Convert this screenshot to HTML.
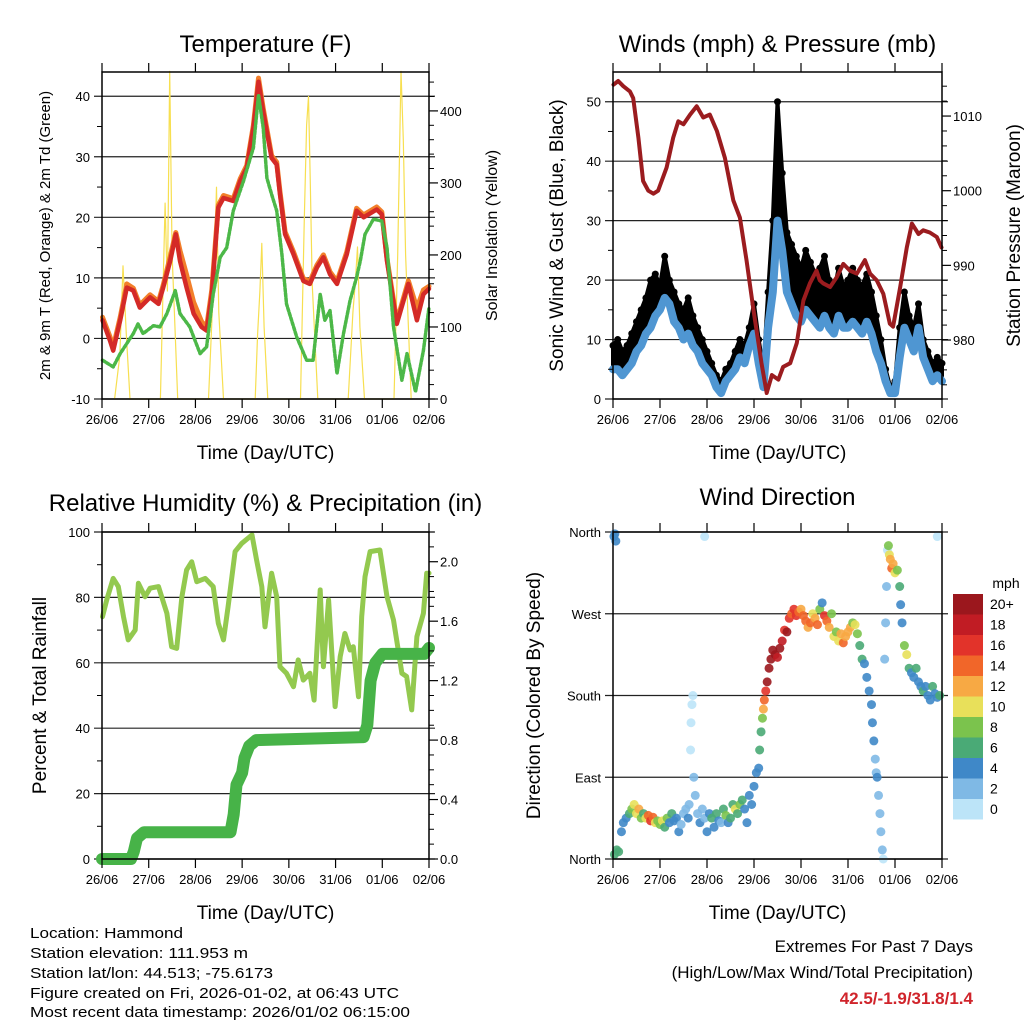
<!DOCTYPE html>
<html><head><meta charset="utf-8">
<style>
html,body{margin:0;padding:0;background:#fff;}
svg{display:block;font-family:"Liberation Sans",Arial,sans-serif;}
</style></head>
<body>
<svg id="fig" width="1024" height="1024" viewBox="0 0 1024 1024" xmlns="http://www.w3.org/2000/svg">
<g id="layer"></g>
<g font-size="15" fill="#000">
<text x="30" y="938" textLength="153" lengthAdjust="spacingAndGlyphs">Location: Hammond</text>
<text x="30" y="958" textLength="218" lengthAdjust="spacingAndGlyphs">Station elevation: 111.953 m</text>
<text x="30" y="978" textLength="243" lengthAdjust="spacingAndGlyphs">Station lat/lon: 44.513; -75.6173</text>
<text x="30" y="998" textLength="369" lengthAdjust="spacingAndGlyphs">Figure created on Fri, 2026-01-02, at 06:43 UTC</text>
<text x="30" y="1017" textLength="380" lengthAdjust="spacingAndGlyphs">Most recent data timestamp: 2026/01/02 06:15:00</text>
</g>
<g font-size="17">
<text x="973" y="952" text-anchor="end">Extremes For Past 7 Days</text>
<text x="973" y="978" text-anchor="end">(High/Low/Max Wind/Total Precipitation)</text>
<text x="973" y="1004" text-anchor="end" fill="#d0242b" font-weight="bold">42.5/-1.9/31.8/1.4</text>
</g>
</svg>
<script>
// ---------- Temperature panel data ----------
const tempT=[0.01,0.17,0.24,0.39,0.53,0.67,0.81,1.03,1.21,1.31,1.46,1.58,1.67,1.81,1.96,2.13,2.24,2.35,2.49,2.6,2.81,2.96,3.1,3.24,3.35,3.45,3.63,3.74,3.81,3.92,4.1,4.31,4.45,4.6,4.74,4.88,5.03,5.24,5.45,5.6,5.88,5.99,6.1,6.31,6.56,6.74,6.88,7.0];
const tempRed=[3,-0.3,-2,3,8.4,7.9,5.1,6.8,5.7,8.4,12.8,17.2,12.8,8.4,4.1,1.9,1.3,7.3,21.6,23.2,22.7,26,28.2,34.8,42.4,37.5,29.8,28.7,23.8,17.2,13.9,9.5,9,11.7,13.4,10.6,9,13.9,21.1,20,21.3,20.5,12.8,2.4,9,3,7.3,8.2];
const tempOrange=[3.5,0.3,-1.5,3.5,9,8.3,5.5,7.2,6.1,8.8,13.5,17.5,14.5,10.5,6,2.8,1.8,8,22,23.6,23.1,26.4,28.6,35.2,43,38,30.2,29.1,24.2,17.6,14.3,9.9,9.4,12.1,13.8,11,9.4,14.3,21.5,20.4,21.7,20.9,13.2,2.8,9.5,5,8,8.6];
const dewT=[0.01,0.24,0.39,0.67,0.77,0.88,1.1,1.24,1.39,1.57,1.67,1.88,2.1,2.24,2.38,2.53,2.67,2.81,3.03,3.24,3.35,3.45,3.53,3.63,3.74,3.85,3.95,4.17,4.38,4.52,4.67,4.77,4.88,5.03,5.17,5.31,5.45,5.53,5.63,5.81,5.99,6.1,6.24,6.42,6.53,6.71,6.88,7.0];
const dewV=[-3.6,-4.7,-2.5,0.8,2.4,0.8,2.1,1.9,4.1,7.9,4.1,1.9,-2.5,-1.4,7.3,13.4,15,21.1,26,31.5,40.2,34.8,26.5,23.8,21.1,13.9,5.7,0.2,-3.6,-3.6,7.3,3,4.6,-5.8,0.8,6.3,10.1,12.8,17.2,19.7,19.4,15,1.9,-6.9,-2.5,-8.8,-2,5.1];
const solarT=[0.27,0.38,0.45,0.52,0.6,1.25,1.35,1.4,1.45,1.5,1.55,1.62,2.28,2.4,2.45,2.5,2.6,3.28,3.33,3.38,3.42,3.47,3.55,4.25,4.33,4.38,4.42,4.46,4.5,4.62,5.27,5.37,5.42,5.47,5.52,5.62,6.25,6.33,6.4,6.45,6.5,6.62];
const solarV=[0,60,185,90,0,0,272,150,455,200,120,0,0,180,294,120,0,0,90,150,216,100,0,0,250,380,420,300,160,0,0,120,160,211,100,0,0,200,455,360,200,0];
// ---------- Winds panel data ----------
const pressT=[0.01,0.11,0.22,0.36,0.43,0.54,0.64,0.75,0.86,0.96,1.14,1.28,1.39,1.5,1.64,1.78,1.92,2.06,2.21,2.38,2.56,2.7,2.84,2.99,3.16,3.27,3.38,3.52,3.62,3.77,3.91,4.05,4.19,4.33,4.4,4.47,4.62,4.76,4.9,5.04,5.19,5.36,5.47,5.61,5.75,5.89,5.96,6.11,6.25,6.36,6.5,6.6,6.74,6.89,6.99];
const pressV=[1014.2,1014.7,1014,1013.3,1012.4,1007.1,1001.3,1000,999.6,1000,1003.1,1007.1,1009.3,1008.9,1010.2,1011.3,1009.8,1010.2,1008,1004.4,998.7,996.4,990.7,984,976.9,972.9,975.3,974.7,976.4,976.9,979.6,985.3,987.6,989.3,988,987.6,987.1,988.4,990.2,989.3,988.9,990.7,988.9,988,986.2,982.2,981.8,987.1,992.4,995.6,994.2,994.7,994.4,993.8,992.4];
const windT=[0,0.1,0.2,0.3,0.4,0.5,0.6,0.7,0.8,0.9,1,1.1,1.2,1.3,1.4,1.5,1.6,1.7,1.8,1.9,2,2.1,2.2,2.3,2.4,2.5,2.6,2.7,2.8,2.9,3,3.1,3.2,3.3,3.4,3.5,3.6,3.7,3.8,3.9,4,4.1,4.2,4.3,4.4,4.5,4.6,4.7,4.8,4.9,5,5.1,5.2,5.3,5.4,5.5,5.6,5.7,5.8,5.9,6,6.1,6.2,6.3,6.4,6.5,6.6,6.7,6.8,6.9,7];
const windSust=[5,5,4,5,6,8,9,11,12,14,15,17,16,13,12,10,11,9,8,6,5,4,2,1,3,4,5,7,6,9,11,6,2,12,18,30,25,18,16,14,13,15,14,13,12,14,12,11,14,12,12,13,12,11,13,11,8,6,3,1,1,7,12,10,8,12,7,5,3,4,3];
const windGust=[9,10,8,9,11,13,15,17,20,21,19,24,20,18,16,15,17,14,12,10,8,6,4,3,5,6,8,10,9,12,16,10,5,18,30,50,38,28,26,24,22,25,23,21,22,24,20,18,22,19,20,22,20,19,21,18,14,10,5,2,3,12,18,14,12,16,10,8,6,7,6];
// ---------- RH / Precip data ----------
const rhT=[0.01,0.1,0.24,0.35,0.46,0.56,0.71,0.78,0.92,1.03,1.21,1.39,1.49,1.6,1.71,1.81,1.92,2.03,2.21,2.38,2.49,2.6,2.7,2.85,2.99,3.21,3.31,3.42,3.49,3.63,3.74,3.81,3.95,4.1,4.2,4.31,4.45,4.54,4.67,4.74,4.85,4.99,5.1,5.2,5.31,5.38,5.49,5.56,5.63,5.74,5.95,6.1,6.24,6.42,6.52,6.63,6.74,6.88,6.95,7.0];
const rhV=[74.1,79.2,85.8,83.3,74.1,67,70,84.3,80.2,82.8,83.3,75.1,64.9,64.4,80.2,88.4,90.9,84.8,85.8,83.3,72.1,67,77.2,94,96.5,99.1,91.4,83.3,71,87.4,80.2,58.8,56.8,52.7,60.9,54.7,56.8,48.6,82.3,58.8,79.2,46.6,61.9,69,63.9,64.9,49.6,74.1,86.3,94,94.5,80.2,73.1,56.8,55.8,45.6,68,75.1,87.4,87.4];
const rainT=[0,0.62,0.68,0.75,0.9,2.75,2.82,2.88,3.0,3.05,3.15,3.3,5.6,5.68,5.75,5.85,6.0,6.9,7.0];
const rainV=[0,0,0.05,0.14,0.18,0.18,0.3,0.5,0.58,0.68,0.76,0.8,0.82,0.9,1.2,1.32,1.38,1.38,1.42];
// ---------- Wind direction data ----------
const dirT=[0.02,0.04,0.06,0.03,0.08,0.12,0.18,0.22,0.28,0.35,0.4,0.45,0.5,0.55,0.6,0.65,0.7,0.75,0.8,0.85,0.9,0.95,1.0,1.05,1.1,1.15,1.2,1.25,1.3,1.35,1.4,1.45,1.5,1.55,1.6,1.62,1.65,1.66,1.68,1.7,1.72,1.75,1.8,1.85,1.9,1.95,2.0,2.05,2.1,2.15,2.2,2.25,2.3,2.35,2.4,2.45,2.5,2.55,2.6,2.65,2.7,2.75,2.8,2.85,2.9,2.95,3.0,3.05,3.1,3.12,3.15,3.18,3.2,3.22,3.25,3.28,3.32,3.36,3.4,3.45,3.5,3.55,3.6,3.65,3.7,3.75,3.8,3.85,3.9,3.95,4.0,4.05,4.1,4.15,4.2,4.25,4.3,4.35,4.4,4.45,4.5,4.55,4.6,4.65,4.7,4.75,4.8,4.85,4.9,4.95,5.0,5.05,5.1,5.15,5.2,5.25,5.3,5.35,5.4,5.45,5.5,5.52,5.55,5.58,5.6,5.62,5.65,5.68,5.7,5.73,5.75,5.78,5.8,5.82,5.84,5.86,5.88,5.9,5.93,5.96,6.0,6.05,6.1,6.12,6.15,6.2,6.25,6.3,6.35,6.4,6.45,6.5,6.55,6.6,6.65,6.7,6.75,6.8,6.85,6.9,6.95,1.95,6.9];
const dirDeg=[355,358,350,5,10,8,30,40,45,50,55,60,50,55,45,50,45,48,42,46,40,42,38,42,35,45,40,50,42,45,30,38,50,55,45,60,120,150,170,180,90,70,50,40,55,45,30,50,45,35,50,42,40,55,48,40,45,60,55,50,60,65,55,40,70,60,80,95,100,120,140,155,165,175,185,195,210,220,230,225,222,232,240,252,250,265,270,275,268,272,275,268,262,255,260,270,265,258,275,282,268,262,255,270,245,250,240,248,238,245,250,255,260,258,248,235,220,215,200,185,170,150,130,110,95,90,70,50,30,10,0,220,260,300,340,345,335,330,320,325,315,318,300,280,260,235,225,210,205,200,210,195,190,185,190,180,175,190,182,178,180,355,355];
const dirSpd=[4,4,4,6,6,6,4,4,4,6,8,10,10,12,8,6,10,14,16,14,10,8,8,10,6,8,4,6,4,4,4,2,2,2,4,1,0,0,0,0,1,2,2,4,2,2,4,4,6,4,6,4,2,6,8,4,6,6,10,6,8,6,4,4,4,4,4,4,4,6,6,8,12,14,16,20,20,20,20,20,18,20,18,16,20,16,14,16,16,14,12,14,14,12,14,10,12,14,8,4,16,14,12,8,10,8,10,12,14,12,12,12,8,10,8,6,6,4,4,4,4,4,4,2,2,4,2,2,1,1,0,1,2,2,0,8,10,12,14,12,10,8,6,4,4,8,10,6,4,4,6,4,4,6,4,4,4,6,4,4,6,0,0];
const cbLabels=['20+','18','16','14','12','10','8','6','4','2','0'];
const cbColors=['#9b171d','#c11c24','#e2332a','#f16629','#f7a944','#e8e05a','#7bc34d','#4aaa76','#3f88c8','#7fb9e5','#bce4f8'];
const dayLabels=['26/06','27/06','28/06','29/06','30/06','31/06','01/06','02/06'];

const NS='http://www.w3.org/2000/svg';
const root=document.getElementById('layer');
function mk(tag,attrs,parent){const e=document.createElementNS(NS,tag);for(const k in attrs)e.setAttribute(k,attrs[k]);(parent||root).appendChild(e);return e;}
function txt(s,x,y,size,anchor,parent,rot){const e=mk('text',{x:x,y:y,'font-size':size,'text-anchor':anchor||'middle'},parent);if(rot)e.setAttribute('transform','rotate(-90 '+x+' '+y+')');e.textContent=s;return e;}

function panel(P){
  const g=mk('g',{});
  
  
  const L=P.x0,R=P.x1,T=P.y0,B=P.y1;
  P.sx=d=>L+(R-L)*d/7;
  P.sy=v=>B-(B-T)*(v-P.lmin)/(P.lmax-P.lmin);
  P.sy2=v=>B-(B-T)*(v-P.rmin)/(P.rmax-P.rmin);
  P.lticks.forEach(v=>{const y=P.sy(v);const l=mk('line',{x1:L-8,x2:R+(P.gridExt||6),y1:y,y2:y,stroke:'#222','stroke-width':1.2},g);});
  const cl=mk('g',{},g);
  
  
  P.plot=cl;
  return g;
}
function frame(P,g){
  const L=P.x0,R=P.x1,T=P.y0,B=P.y1;
  const f=mk('rect',{x:L,y:T,width:R-L,height:B-T,fill:'none',stroke:'#000','stroke-width':1.5},g);
  
  for(let i=0;i<=7;i++){const x=P.sx(i);
    mk('line',{x1:x,x2:x,y1:T,y2:T-9,stroke:'#000','stroke-width':1.2},g);
    mk('line',{x1:x,x2:x,y1:B,y2:B+9,stroke:'#000','stroke-width':1.2},g);
    const t=txt(dayLabels[i],x,B+25,13,'middle',g);}
  P.lticks.forEach((v,i)=>{const y=P.sy(v);const t=txt(P.llabels[i],L-12,y+5,13,'end',g);});
  (P.lminor||[]).forEach(v=>{const y=P.sy(v);mk('line',{x1:L,x2:L-5,y1:y,y2:y,stroke:'#000'},g);});
  if(P.rticks){P.rticks.forEach((v,i)=>{const y=P.sy2(v);mk('line',{x1:R,x2:R+9,y1:y,y2:y,stroke:'#000','stroke-width':1.2},g);const t=txt(P.rlabels[i],R+11,y+5,13,'start',g);});
    (P.rminor||[]).forEach(v=>{const y=P.sy2(v);mk('line',{x1:R,x2:R+5,y1:y,y2:y,stroke:'#000'},g);});}
  const ti=txt(P.title,(L+R)/2,P.titleY,24,'middle',g);
  const xl=txt('Time (Day/UTC)',(L+R)/2,B+60,19,'middle',g);
  const yl=txt(P.ylab,P.ylabX,(T+B)/2,P.ylabSize,'middle',g,true);
  if(P.y2lab){const y2=txt(P.y2lab,P.y2labX,(T+B)/2,P.y2labSize,'middle',g,true);}
}
function poly(P,ts,vs,sy,attrs,name){
  const pts=ts.map((t,i)=>P.sx(t).toFixed(1)+','+sy(vs[i]).toFixed(1)).join(' ');
  const a=Object.assign({points:pts,fill:'none','stroke-linejoin':'round','stroke-linecap':'round'},attrs);
  const e=mk('polyline',a,P.plot);
  
  
  return e;
}
function dots(P,ts,vs,sy,r,color,name){
  ts.forEach((t,i)=>{const c=mk('circle',{cx:P.sx(t),cy:sy(vs[i]),r:r,fill:color},P.plot);
    
    });
}

// ---- Temperature ----
const PT={name:'temperature-panel',x0:102,x1:429,y0:72,y1:399,lmin:-10,lmax:44,rmin:0,rmax:454,
  lticks:[-10,0,10,20,30,40],llabels:['-10','0','10','20','30','40'],lminor:[-5,5,15,25,35],
  rticks:[0,100,200,300,400],rlabels:['0','100','200','300','400'],rminor:[20,40,60,80,120,140,160,180,220,240,260,280,320,340,360,380,420,440],
  title:'Temperature (F)',titleY:52,ylab:'2m & 9m T (Red, Orange) & 2m Td (Green)',ylabX:50,ylabSize:15,
  y2lab:'Solar Insolation (Yellow)',y2labX:497,y2labSize:16};
const gT=panel(PT);
poly(PT,solarT,solarV,PT.sy2,{stroke:'#f7df50','stroke-width':1.2},'solar-insolation-line');
poly(PT,tempT,tempOrange,PT.sy,{stroke:'#f27f2a','stroke-width':5},'temp-9m-line');
poly(PT,tempT,tempRed,PT.sy,{stroke:'#d42a27','stroke-width':4.5},'temp-2m-line');
poly(PT,dewT,dewV,PT.sy,{stroke:'#4cb848','stroke-width':3.5,'stroke-dasharray':'3 2'},'dewpoint-line');
frame(PT,gT);

// ---- Winds ----
const PW={name:'winds-panel',x0:613,x1:942,y0:72,y1:399,lmin:0,lmax:55,rmin:972.1,rmax:1015.9,
  lticks:[0,10,20,30,40,50],llabels:['0','10','20','30','40','50'],lminor:[5,15,25,35,45],
  rticks:[980,990,1000,1010],rlabels:['980','990','1000','1010'],rminor:[974,976,978,982,984,986,988,992,994,996,998,1002,1004,1006,1008,1012,1014],
  title:'Winds (mph) & Pressure (mb)',titleY:52,ylab:'Sonic Wind & Gust (Blue, Black)',ylabX:563,ylabSize:19,
  y2lab:'Station Pressure (Maroon)',y2labX:1020,y2labSize:19};
const gW=panel(PW);
// gust band (area between sustained and gust)
const bandPts=windT.map((t,i)=>PW.sx(t).toFixed(1)+','+PW.sy(windGust[i]).toFixed(1)).concat(windT.slice().reverse().map((t,j)=>{const i=windT.length-1-j;return PW.sx(t).toFixed(1)+','+PW.sy(windSust[i]).toFixed(1);})).join(' ');
const band=mk('polygon',{points:bandPts,fill:'#000',stroke:'#000','stroke-width':4,'stroke-linejoin':'round'},PW.plot);


dots(PW,windT,windGust,PW.sy,3.5,'#000','gust-dot');
poly(PW,windT,windSust,PW.sy,{stroke:'#4f96d2','stroke-width':8},'sustained-wind-line');
poly(PW,pressT,pressV,PW.sy2,{stroke:'#9b1c1f','stroke-width':4},'pressure-line');
frame(PW,gW);

// ---- RH / Precip ----
const PR={name:'humidity-precip-panel',x0:102,x1:429,y0:532,y1:859,lmin:0,lmax:100,rmin:0,rmax:2.2,
  lticks:[0,20,40,60,80,100],llabels:['0','20','40','60','80','100'],lminor:[10,30,50,70,90],
  rticks:[0,0.4,0.8,1.2,1.6,2.0],rlabels:['0.0','0.4','0.8','1.2','1.6','2.0'],rminor:[0.1,0.2,0.3,0.5,0.6,0.7,0.9,1.0,1.1,1.3,1.4,1.5,1.7,1.8,1.9,2.1,2.2],
  title:'Relative Humidity (%) & Precipitation (in)',titleY:511,ylab:'Percent & Total Rainfall',ylabX:46,ylabSize:19};
const gR=panel(PR);
poly(PR,rhT,rhV,PR.sy,{stroke:'#93c94f','stroke-width':5},'relative-humidity-line');
poly(PR,rainT,rainV,PR.sy2,{stroke:'#47b348','stroke-width':12},'precipitation-line');
frame(PR,gR);

// ---- Wind direction ----
const PD={name:'wind-direction-panel',x0:613,x1:942,y0:532,y1:859,lmin:0,lmax:360,gridExt:0,
  lticks:[0,90,180,270,360],llabels:['North','East','South','West','North'],
  title:'Wind Direction',titleY:505,ylab:'Direction (Colored By Speed)',ylabX:540,ylabSize:19};
const gD=panel(PD);
function spdColor(s){let idx=10-Math.min(10,Math.round(s/2));return cbColors[idx];}
dirT.forEach((t,i)=>{const c=mk('circle',{cx:PD.sx(t),cy:PD.sy(dirDeg[i]),r:4.5,fill:spdColor(dirSpd[i]),'fill-opacity':0.9},PD.plot);
  
  });
frame(PD,gD);
// colorbar
const cb=mk('g',{});


const cbt=txt('mph',1006,588,14,'middle',cb);


cbLabels.forEach((lab,i)=>{const y=594+i*20.5;
  const r=mk('rect',{x:953,y:y,width:30,height:20.5,fill:cbColors[i]},cb);
  
  
  const t=txt(lab,990,y+15,14,'start',cb);
  
  });
</script>
</body></html>
